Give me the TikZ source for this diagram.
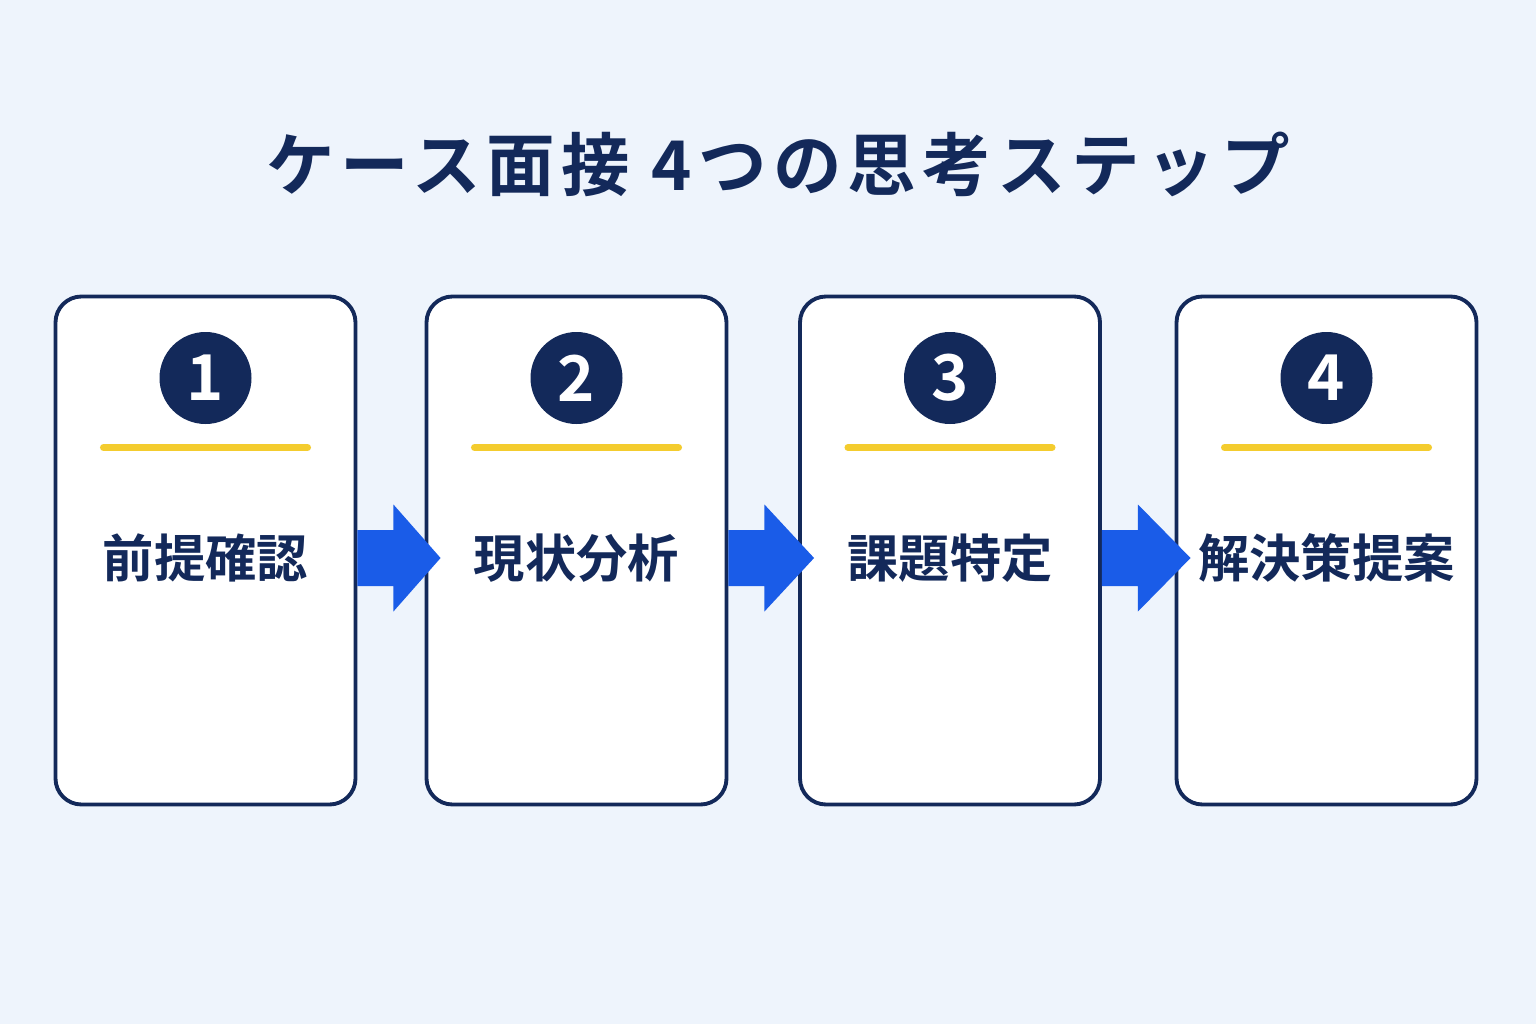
\documentclass[tikz,border=0pt]{standalone}
\usepackage{fontspec}
\newfontfamily\cjk{Noto Sans CJK JP}[BoldFont={Noto Sans CJK JP Bold}]
\newfontfamily\cjkwide{Noto Sans CJK JP Bold}[LetterSpace=9]
\usetikzlibrary{calc}
\definecolor{navy}{HTML}{13295A}
\definecolor{bluearrow}{HTML}{1A5CE8}
\definecolor{goldline}{HTML}{F4CC2E}
\definecolor{paper}{HTML}{EEF4FC}
\tikzset{
    card/.style={draw=navy,line width=1.1pt,fill=white,rounded corners=0.26cm,minimum width=3.0cm,minimum height=5.08cm},
    badge/.style={circle,fill=navy,text=white,minimum size=0.92cm,inner sep=0pt,font=\cjk\bfseries\fontsize{18}{18}\selectfont},
    steplabel/.style={text=navy,font=\cjk\bfseries\fontsize{14.6}{15}\selectfont},
    flow/.style={fill=bluearrow},
}
\begin{document}
\begin{tikzpicture}
\fill[paper] (0,0) rectangle (15.36,10.24);
\useasboundingbox (0,0) rectangle (15.36,10.24);
\node[text=navy,font=\cjkwide\fontsize{19.5}{20}\selectfont] (title) at (7.78,8.6) {ケース面接 4つの思考ステップ};
\foreach \i/\x/\lab in {1/2.055/前提確認,2/5.765/現状分析,3/9.5/課題特定,4/13.265/解決策提案}{
  \node[card] (c\i) at (\x,4.735) {};
  \node[badge] (b\i) at (\x,6.46) {\i};
  \draw[goldline,line width=2pt,line cap=round] ($(c\i.north)+(-1.02,-1.53)$) -- ($(c\i.north)+(1.02,-1.53)$);
  \node[steplabel] (s\i) at (\x,4.66) {\lab};
}
% arrows between cards
\foreach \a/\b in {1/2,2/3,3/4}{
  \fill[flow] ($(c\a.east)+(0,0.205)$) -- ++(0.36,0) -- ++(0,0.255) -- ($(c\b.west)+(0.16,-0.075)$)
    -- ($(c\a.east)+(0.36,-0.61)$) -- ++(0,0.255) -- ($(c\a.east)+(0,-0.355)$) -- cycle;
}
\end{tikzpicture}
\end{document}
